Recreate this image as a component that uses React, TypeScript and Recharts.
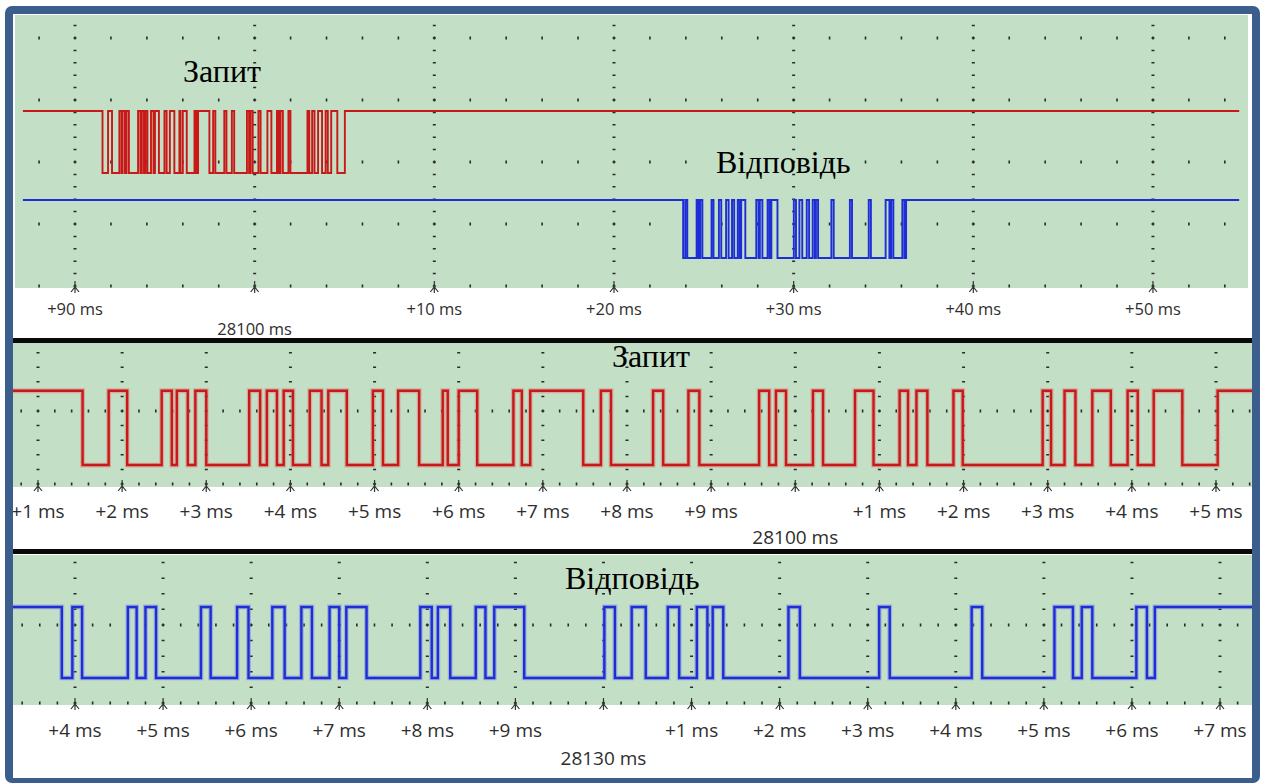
import { LineChart, Line, XAxis, YAxis, CartesianGrid, ReferenceLine } from 'recharts';

// edge times in ms relative to 28100 ms, level after each edge (1 = high)
const requestTimes = [
  -8.47, -8.16, -7.94, -7.53, -7.41, -7.35, -7.22, -7.13, -7.0, -6.49, -6.36, -6.28, -6.16, -6.08, -5.97,
  -5.77, -5.63, -5.55, -5.33, -5.02, -4.9, -4.72, -4.47, -4.19, -4.13, -4.0, -3.78, -3.35, -3.25, -3.15,
  -2.52, -2.31, -2.19, -1.69, -1.57, -1.27, -1.14, -0.43, -0.31, -0.23, -0.11, 0.21, 0.33, 0.71, 0.93,
  1.24, 1.34, 1.44, 1.57, 1.88, 1.99, 2.94, 3.04, 3.2, 3.33, 3.53, 3.75, 3.95, 4.07, 4.26, 4.6, 5.02,
];
const requestLevels = [
  0, 1, 0, 1, 0, 1, 0, 1, 0, 1, 0, 1, 0, 1, 0,
  1, 0, 1, 0, 1, 0, 1, 0, 1, 0, 1, 0, 1, 0, 1,
  0, 1, 0, 1, 0, 1, 0, 1, 0, 1, 0, 1, 0, 1, 0,
  1, 0, 1, 0, 1, 0, 1, 0, 1, 0, 1, 0, 1, 0, 1, 0, 1,
];

const responseTimes = [
  23.85, 23.97, 24.08, 24.6, 24.7, 24.8, 24.92, 25.43, 25.54, 25.84, 25.97, 26.24, 26.38, 26.57, 26.69,
  26.89, 27.0, 27.08, 27.31, 27.92, 28.05, 28.12, 28.26, 28.55, 28.66, 28.76, 29.1, 30.01, 30.13, 30.32,
  30.48, 30.73, 30.86, 31.06, 31.18, 31.24, 31.36, 32.1, 32.23, 33.13, 33.25, 34.18, 34.3, 35.12, 35.33,
  35.43, 35.55, 36.05, 36.17, 36.26,
];
const responseLevels = [
  0, 1, 0, 1, 0, 1, 0, 1, 0, 1, 0, 1, 0, 1, 0,
  1, 0, 1, 0, 1, 0, 1, 0, 1, 0, 1, 0, 1, 0, 1,
  0, 1, 0, 1, 0, 1, 0, 1, 0, 1, 0, 1, 0, 1, 0,
  1, 0, 1, 0, 1,
];

const overviewTicks = [-10, 0, 10, 20, 30, 40, 50];
const overviewLabels = ['+90 ms', '', '+10 ms', '+20 ms', '+30 ms', '+40 ms', '+50 ms'];
const requestTicks = [-9, -8, -7, -6, -5, -4, -3, -2, -1, 0, 1, 2, 3, 4, 5];
const requestLabels = [
  '+1 ms', '+2 ms', '+3 ms', '+4 ms', '+5 ms', '+6 ms', '+7 ms', '+8 ms', '+9 ms', '',
  '+1 ms', '+2 ms', '+3 ms', '+4 ms', '+5 ms',
];
const responseTicks = [24, 25, 26, 27, 28, 29, 30, 31, 32, 33, 34, 35, 36, 37];
const responseLabels = [
  '+4 ms', '+5 ms', '+6 ms', '+7 ms', '+8 ms', '+9 ms', '',
  '+1 ms', '+2 ms', '+3 ms', '+4 ms', '+5 ms', '+6 ms', '+7 ms',
];
const overviewBase = '28100 ms';
const requestBase = '28100 ms';
const responseBase = '28130 ms';

// grid rows (y divisions) per panel
const overviewRows = [0, 1, 2, 3, 4];
const zoomRows = [0, 1];

const GREEN = '#c3dfc6';
const GRID = '#2a2a2a';
const RED = '#c81818';
const BLUE = '#1e2ed6';

type Trace = {
  times: number[]; levels: number[]; hi: number; lo: number; from: number; to: number;
  color: string; width: number; halo?: string;
};
type Panel = {
  top: number; height: number; left: number; right: number; mtop: number; axisH: number;
  xdom: [number, number]; ydom: [number, number]; rows: number[]; minorStep: number;
  ticks: number[]; labels: string[]; base: string; baseTick: number;
  fontSize: number; labelDy: number; baseDy: number; traces: Trace[];
};

function steps(tr: Trace) {
  let level = 1;
  tr.times.forEach((t, i) => { if (t <= tr.from) level = tr.levels[i]; });
  const pts = [{ t: tr.from, v: level ? tr.hi : tr.lo }];
  tr.times.forEach((t, i) => {
    if (t > tr.from && t < tr.to) {
      level = tr.levels[i];
      pts.push({ t, v: level ? tr.hi : tr.lo });
    }
  });
  pts.push({ t: tr.to, v: level ? tr.hi : tr.lo });
  return pts;
}

// major vertical line drawn as small marks, five per y division, lined up with the rows
const majorMarks = (ydom: [number, number]) => (p: any) => {
  const { x1, y1, x2, y2 } = p;
  const top = Math.min(y1, y2);
  const bottom = Math.max(y1, y2);
  const step = 0.2;
  const len = 1.5;
  const ppu = (bottom - top) / (ydom[1] - ydom[0]);
  const gap = step * ppu;
  const firstV = Math.floor(ydom[1] / step + 1e-9) * step;
  const c = (ydom[1] - firstV) * ppu;
  const off = (((len / 2 - c) % gap) + gap) % gap;
  return (
    <line x1={x1} y1={top} x2={x2} y2={bottom} stroke={GRID} strokeWidth={3}
      strokeDasharray={`${len} ${gap - len}`} strokeDashoffset={off} />
  );
};

// grid row: one dot at every minor time step
const rowDots = (xdom: [number, number], step: number) => (p: any) => {
  const { y1, y2 } = p;
  const left = Math.min(p.x1, p.x2);
  const right = Math.max(p.x1, p.x2);
  const len = 1.6;
  const ppu = (right - left) / (xdom[1] - xdom[0]);
  const gap = step * ppu;
  const c = (Math.ceil(xdom[0] / step - 1e-9) * step - xdom[0]) * ppu;
  const off = (((len / 2 - c) % gap) + gap) % gap;
  return (
    <line x1={left} y1={y1} x2={right} y2={y2} stroke={GRID} strokeWidth={3}
      strokeDasharray={`${len} ${gap - len}`} strokeDashoffset={off} />
  );
};

function TimeTick(props: any) {
  const { x, y, payload, cfg } = props;
  const p = cfg as Panel;
  const i = p.ticks.indexOf(payload.value);
  const label = i >= 0 ? p.labels[i] : '';
  return (
    <g>
      <path d={`M${x},${y - 7}V${y + 5}M${x - 4},${y + 4}L${x},${y - 1}L${x + 4},${y + 4}`} stroke="#333" strokeWidth={1.2} fill="none" />
      {label && (
        <text x={x} y={y + p.labelDy} textAnchor="middle" fontSize={p.fontSize} fill="#2e2e2e" fontFamily="Open Sans">{label}</text>
      )}
      {payload.value === p.baseTick && (
        <text x={x} y={y + p.baseDy} textAnchor="middle" fontSize={p.fontSize} fill="#2e2e2e" fontFamily="Open Sans">{p.base}</text>
      )}
    </g>
  );
}

function Scope({ p }: { p: Panel }) {
  const dots = rowDots(p.xdom, p.minorStep);
  const marks = majorMarks(p.ydom);
  return (
    <div style={{ position: 'absolute', left: 0, top: p.top }}>
      <LineChart width={1265} height={p.height} margin={{ top: p.mtop, right: p.right, bottom: 0, left: p.left }}>
        <XAxis dataKey="t" type="number" domain={p.xdom} ticks={p.ticks} allowDataOverflow interval={0} height={p.axisH}
          axisLine={false} tickLine={false} tickSize={0} tickMargin={0} tick={(tp: any) => <TimeTick {...tp} cfg={p} />} />
        <YAxis type="number" domain={p.ydom} ticks={p.rows} allowDataOverflow width={0}
          tick={false} axisLine={false} tickLine={false} />
        <CartesianGrid horizontal={false} vertical={false} fill={GREEN} fillOpacity={1} />
        {p.rows.map((r) => (
          <ReferenceLine key={`r${r}`} y={r} stroke={GRID} shape={dots} />
        ))}
        {p.ticks.map((t) => (
          <ReferenceLine key={`m${t}`} x={t} stroke={GRID} shape={marks} />
        ))}
        {p.traces.filter((tr) => tr.halo).map((tr, i) => (
          <Line key={`halo-${i}`} data={steps(tr)} dataKey="v" type="stepAfter" stroke={tr.halo} strokeWidth={tr.width + 2.4}
            dot={false} activeDot={false} isAnimationActive={false} />
        ))}
        {p.traces.map((tr, i) => (
          <Line key={i} data={steps(tr)} dataKey="v" type="stepAfter" stroke={tr.color} strokeWidth={tr.width}
            dot={false} activeDot={false} isAnimationActive={false} />
        ))}
      </LineChart>
    </div>
  );
}

const overview: Panel = {
  top: 0, height: 340, left: 15, right: 17, mtop: 15, axisH: 52,
  xdom: [-13.34, 55.29], ydom: [-0.032, 4.371], rows: overviewRows, minorStep: 2,
  ticks: overviewTicks, labels: overviewLabels, base: overviewBase, baseTick: 0,
  fontSize: 16.5, labelDy: 27, baseDy: 47,
  traces: [
    { times: requestTimes, levels: requestLevels, hi: 2.823, lo: 1.823, from: -12.9, to: 54.8, color: RED, width: 1.9 },
    { times: responseTimes, levels: responseLevels, hi: 1.387, lo: 0.452, from: -12.9, to: 54.8, color: BLUE, width: 1.9 },
  ],
};

const request: Panel = {
  top: 343, height: 206, left: 13, right: 13, mtop: 0, axisH: 62,
  xdom: [-9.297, 5.428], ydom: [-0.041, 1.932], rows: zoomRows, minorStep: 0.2,
  ticks: requestTicks, labels: requestLabels, base: requestBase, baseTick: 0,
  fontSize: 19, labelDy: 31, baseDy: 57,
  traces: [
    { times: requestTimes, levels: requestLevels, hi: 1.278, lo: 0.26, from: -9.297, to: 5.428, color: RED, width: 2.4, halo: 'rgba(226,110,110,0.45)' },
  ],
};

const response: Panel = {
  top: 555, height: 228, left: 13, right: 13, mtop: 0, axisH: 78,
  xdom: [23.296, 37.363], ydom: [-0.026, 1.897], rows: zoomRows, minorStep: 0.2,
  ticks: responseTicks, labels: responseLabels, base: responseBase, baseTick: 30,
  fontSize: 19, labelDy: 32, baseDy: 60,
  traces: [
    { times: responseTimes, levels: responseLevels, hi: 1.231, lo: 0.321, from: 23.296, to: 37.363, color: BLUE, width: 2.4, halo: 'rgba(110,120,235,0.45)' },
  ],
};

export default function App() {
  const serif = { fontFamily: 'Liberation Serif', fontSize: 32, fill: '#000' };
  return (
    <div style={{ position: 'absolute', left: 0, top: 0, width: 1265, height: 783, background: '#fff', overflow: 'hidden' }}>
      <Scope p={overview} />
      <Scope p={request} />
      <Scope p={response} />
      <svg width={1265} height={783} style={{ position: 'absolute', left: 0, top: 0, pointerEvents: 'none' }}>
        <rect x={9} y={338} width={1248} height={5} fill="#0a0a0a" />
        <rect x={9} y={549} width={1248} height={5} fill="#0a0a0a" />
        <text x={183} y={82} {...serif}>Запит</text>
        <text x={716} y={173} {...serif}>Відповідь</text>
        <text x={612} y={367} {...serif}>Запит</text>
        <text x={565} y={589} {...serif}>Відповідь</text>
      </svg>
      <div style={{
        position: 'absolute', left: 5, top: 6, width: 1255, height: 777, boxSizing: 'border-box',
        border: '8px solid #3b5e8c', borderBottomWidth: 5, borderRadius: 7, pointerEvents: 'none',
      }} />
    </div>
  );
}
